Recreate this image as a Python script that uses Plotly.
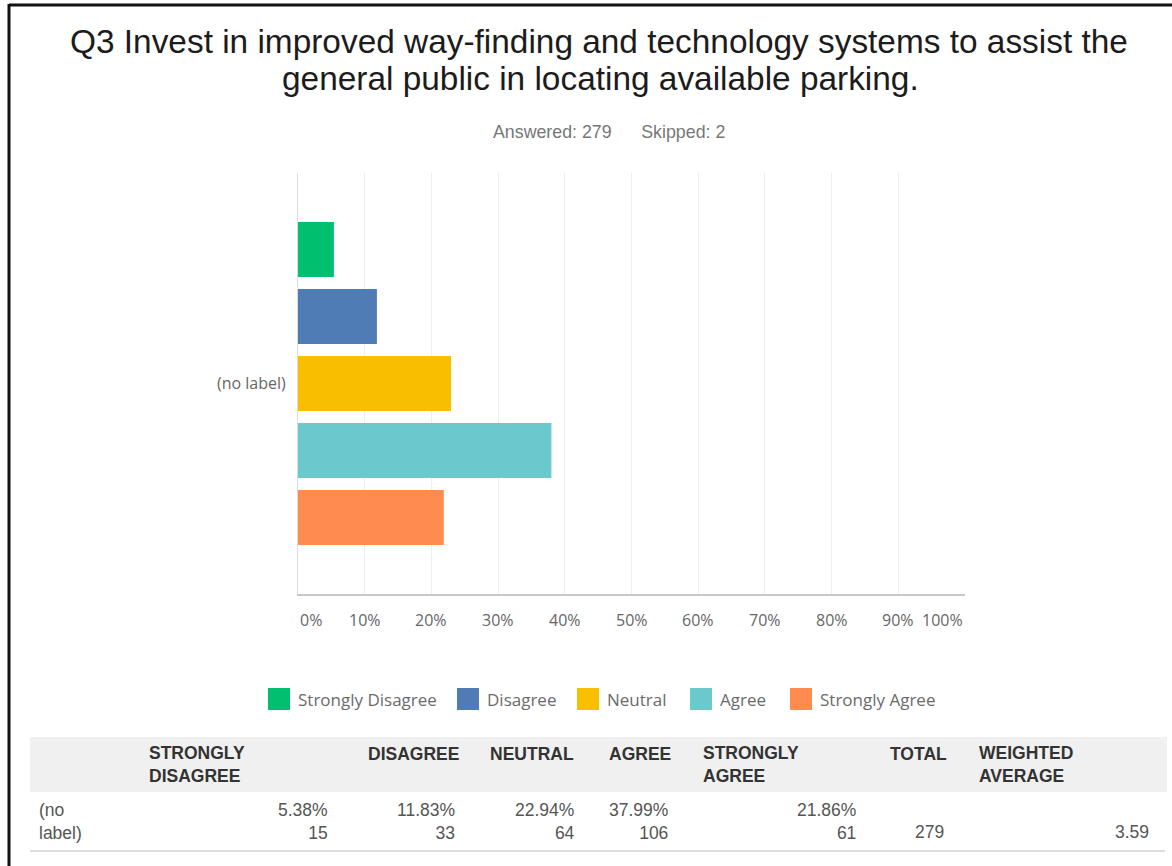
import plotly.graph_objects as go

# ---- survey data -------------------------------------------------------
question_line1 = "Q3 Invest in improved way-finding and technology systems to assist the"
question_line2 = "general public in locating available parking."
answered = 279
skipped = 2

row_labels = ["(no label)"]
responses = ["Strongly Disagree", "Disagree", "Neutral", "Agree", "Strongly Agree"]
percents = [5.38, 11.83, 22.94, 37.99, 21.86]
counts = [15, 33, 64, 106, 61]
total_responses = 279
weighted_average = 3.59

tick_values = [0, 10, 20, 30, 40, 50, 60, 70, 80, 90, 100]
tick_labels = ["0%", "10%", "20%", "30%", "40%", "50%", "60%", "70%", "80%", "90%", "100%"]

table_headers = ["STRONGLY<br>DISAGREE", "DISAGREE", "NEUTRAL", "AGREE",
                 "STRONGLY<br>AGREE", "TOTAL", "WEIGHTED<br>AVERAGE"]

colors = ["#00BF6F", "#507CB6", "#F9BE00", "#6BC8CD", "#FF8B4F"]

# ---- page geometry ------------------------------------------------------
W, H = 1172, 866


def px(x):
    return x / W


def py(y):
    return 1 - y / H


PLOT_L, PLOT_R, PLOT_T, PLOT_B = 298, 965, 173, 594

CHART_FONT = "Open Sans"
TABLE_FONT = "Liberation Sans, Arial, sans-serif"

fig = go.Figure()

for name, pct, col in zip(responses, percents, colors):
    fig.add_trace(go.Bar(
        x=[pct], y=row_labels, name=name, orientation="h",
        marker=dict(color=col, line=dict(width=0)),
        showlegend=False, hoverinfo="x+name",
    ))

fig.update_layout(
    width=W, height=H,
    margin=dict(l=0, r=0, t=0, b=0),
    paper_bgcolor="white", plot_bgcolor="white",
    barmode="group", bargap=0.204, bargroupgap=0.18,
    xaxis=dict(
        domain=[px(PLOT_L), px(PLOT_R)], range=[0, 100],
        tickvals=tick_values, showticklabels=False,
        showgrid=True, gridcolor="#efefef", gridwidth=1,
        zeroline=False, showline=True, linecolor="#c8c8c8", linewidth=2,
        fixedrange=True,
    ),
    yaxis=dict(
        domain=[py(PLOT_B), py(PLOT_T)], autorange="reversed",
        showgrid=False, zeroline=False,
        showline=True, linecolor="#dcdcdc", linewidth=1,
        ticks="", ticklabelstandoff=8,
        tickfont=dict(family=CHART_FONT, size=16, color="#666666"),
        fixedrange=True,
    ),
    font=dict(family=CHART_FONT),
)

annotations = []
shapes = []

# title, two centred lines
for text, cx, cy in [(question_line1, 598.5, 42), (question_line2, 600, 79)]:
    annotations.append(dict(text=text, x=px(cx), y=py(cy), xref="paper", yref="paper",
                            xanchor="center", yanchor="middle", showarrow=False,
                            font=dict(family=TABLE_FONT, size=33.4, color="#1c1c1c")))

# answered / skipped
annotations.append(dict(text=f"Answered: {answered}&nbsp;&nbsp;&nbsp;&nbsp;&nbsp;&nbsp;Skipped: {skipped}",
                        x=px(609), y=py(132), xref="paper", yref="paper",
                        xanchor="center", yanchor="middle", showarrow=False,
                        font=dict(family=TABLE_FONT, size=17.8, color="#777777")))

# x tick labels (end labels kept inside the axis span)
for v, t in zip(tick_values, tick_labels):
    anchor = "center"
    if v == tick_values[0]:
        anchor = "left"
    elif v == tick_values[-1]:
        anchor = "right"
    annotations.append(dict(text=t, x=v, y=py(620), xref="x", yref="paper",
                            xanchor=anchor, yanchor="middle", showarrow=False,
                            font=dict(family=CHART_FONT, size=16, color="#666666")))

# legend row
legend_x = [268, 457, 577, 690, 790]
for lx, name, col in zip(legend_x, responses, colors):
    shapes.append(dict(type="rect", xref="paper", yref="paper",
                       x0=px(lx), x1=px(lx + 22), y0=py(710), y1=py(688),
                       fillcolor=col, line=dict(width=0), layer="above"))
    annotations.append(dict(text=name, x=px(lx + 28), y=py(699), xref="paper", yref="paper",
                            xanchor="left", yanchor="middle", showarrow=False,
                            font=dict(family=CHART_FONT, size=17, color="#6b6b6b")))

# frame lines
shapes.append(dict(type="line", xref="paper", yref="paper",
                   x0=px(9), x1=px(W + 5), y0=py(5), y1=py(5),
                   line=dict(color="#111111", width=3)))
shapes.append(dict(type="line", xref="paper", yref="paper",
                   x0=px(9), x1=px(9), y0=py(4), y1=py(H + 5),
                   line=dict(color="#111111", width=3)))

# summary table
shapes.append(dict(type="rect", xref="paper", yref="paper",
                   x0=px(30), x1=px(1167), y0=py(792), y1=py(737),
                   fillcolor="#f0f0f0", line=dict(width=0), layer="below"))
shapes.append(dict(type="line", xref="paper", yref="paper",
                   x0=px(30), x1=px(1165), y0=py(851), y1=py(851),
                   line=dict(color="#dddddd", width=2)))

header_x = [147, 366, 488, 607, 701, 888, 977]
for hx, ht in zip(header_x, table_headers):
    ycen = 764.5 if "<br>" in ht else 754
    annotations.append(dict(text=ht, x=px(hx), y=py(ycen), xref="paper", yref="paper",
                            xanchor="left", yanchor="middle", align="left", showarrow=False,
                            font=dict(family=TABLE_FONT, size=17.5, color="#333333",
                                      weight="bold")))

annotations.append(dict(text="(no<br>label)", x=px(37), y=py(821.5), xref="paper", yref="paper",
                        xanchor="left", yanchor="middle", align="left", showarrow=False,
                        font=dict(family=TABLE_FONT, size=17.5, color="#555555")))

value_right = [330, 457, 577, 670, 858]
for vx, pct, cnt in zip(value_right, percents, counts):
    annotations.append(dict(text=f"{pct:.2f}%<br>{cnt}", x=px(vx), y=py(821.5),
                            xref="paper", yref="paper", xanchor="right", yanchor="middle",
                            align="right", showarrow=False,
                            font=dict(family=TABLE_FONT, size=17.5, color="#555555")))

annotations.append(dict(text=str(total_responses), x=px(946), y=py(832), xref="paper", yref="paper",
                        xanchor="right", yanchor="middle", showarrow=False,
                        font=dict(family=TABLE_FONT, size=17.5, color="#555555")))
annotations.append(dict(text=f"{weighted_average:.2f}", x=px(1151), y=py(832), xref="paper", yref="paper",
                        xanchor="right", yanchor="middle", showarrow=False,
                        font=dict(family=TABLE_FONT, size=17.5, color="#555555")))

fig.update_layout(annotations=annotations, shapes=shapes)

fig.write_html("out.html")
